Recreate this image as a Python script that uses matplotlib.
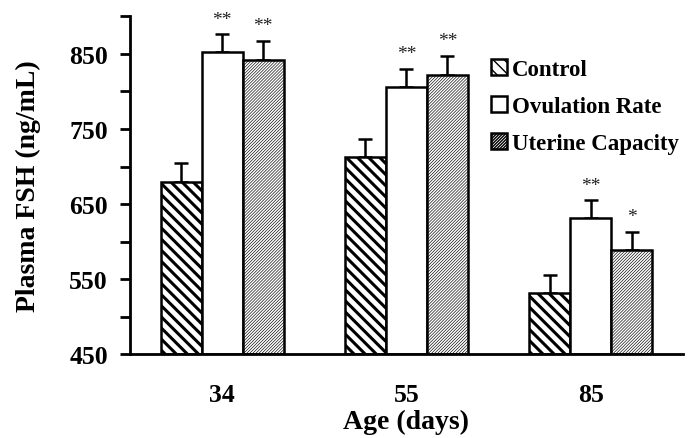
import matplotlib
matplotlib.use("Agg")
import matplotlib.pyplot as plt
import numpy as np

plt.rcParams['font.family'] = ['Liberation Serif', 'DejaVu Serif']

ages = ["34", "55", "85"]
series = ["Control", "Ovulation Rate", "Uterine Capacity"]
control = [680, 712, 532]
ovulation = [852, 806, 631]
uterine = [842, 822, 589]
control_err = [25, 24, 24]
ovulation_err = [24, 24, 24]
uterine_err = [25, 25, 24]
ovulation_sig = ["**", "**", "**"]
uterine_sig = ["**", "**", "*"]

fig = plt.figure(figsize=(6.96, 4.39), dpi=100)
ax = fig.add_axes([0.1868, 0.1907, 0.7942, 0.7699])

x = np.arange(len(ages))
w = 0.223
offsets = [-w, 0, w]
vals = [control, ovulation, uterine]
errs = [control_err, ovulation_err, uterine_err]
hatches = ['\\\\\\', '', '/' * 11]
hlw = [2.2, 1.0, 0.45]
handles = []
for i in range(3):
    with plt.rc_context({'hatch.linewidth': hlw[i]}):
        bars = ax.bar(x + offsets[i], [v - 450 for v in vals[i]], bottom=450, width=w,
                      color='white', edgecolor='black', linewidth=1.8,
                      hatch=hatches[i], label=series[i], zorder=2)
    for b in bars:
        if hasattr(b, 'set_hatch_linewidth'):
            b.set_hatch_linewidth(hlw[i])
    handles.append(bars)
    ax.errorbar(x + offsets[i], vals[i], yerr=[np.zeros(3), errs[i]], fmt='none',
                ecolor='black', elinewidth=1.8, capsize=4.7, capthick=1.8, zorder=1)

for j in range(3):
    ax.text(x[j], ovulation[j] + ovulation_err[j] + 9, ovulation_sig[j],
            ha='center', va='bottom', fontsize=14, color='#222222')
    ax.text(x[j] + w, uterine[j] + uterine_err[j] + 9, uterine_sig[j],
            ha='center', va='bottom', fontsize=14, color='#222222')

ax.set_xlim(-0.5, 2.5)
ax.set_ylim(450, 900)
ax.set_yticks(np.arange(450, 901, 50))
ax.set_yticklabels([str(v) if (v - 450) % 100 == 0 else '' for v in range(450, 901, 50)])
ax.set_xticks(x)
ax.set_xticklabels(ages)
for s in ['top', 'right']:
    ax.spines[s].set_visible(False)
for s in ['left', 'bottom']:
    ax.spines[s].set_linewidth(2)
ax.tick_params(axis='y', direction='out', length=7, width=2, pad=9, labelsize=18.5)
ax.tick_params(axis='x', length=0, pad=21, labelsize=18.5)
for lab in ax.get_xticklabels() + ax.get_yticklabels():
    lab.set_fontweight('bold')

ax.set_ylabel("Plasma FSH (ng/mL)", fontsize=20, fontweight='bold', labelpad=20)
ax.set_xlabel("Age (days)", fontsize=20, fontweight='bold', labelpad=2)

leg = fig.legend(handles=handles, labels=series, loc='upper left',
                 bbox_to_anchor=(491 / 696, 1 - 60 / 439), frameon=False,
                 prop={'weight': 'bold', 'size': 16.5}, handlelength=0.68,
                 handleheight=0.68, handletextpad=0.22, labelspacing=0.7,
                 borderpad=0, borderaxespad=0)

fig.savefig("out.png", dpi=100)
